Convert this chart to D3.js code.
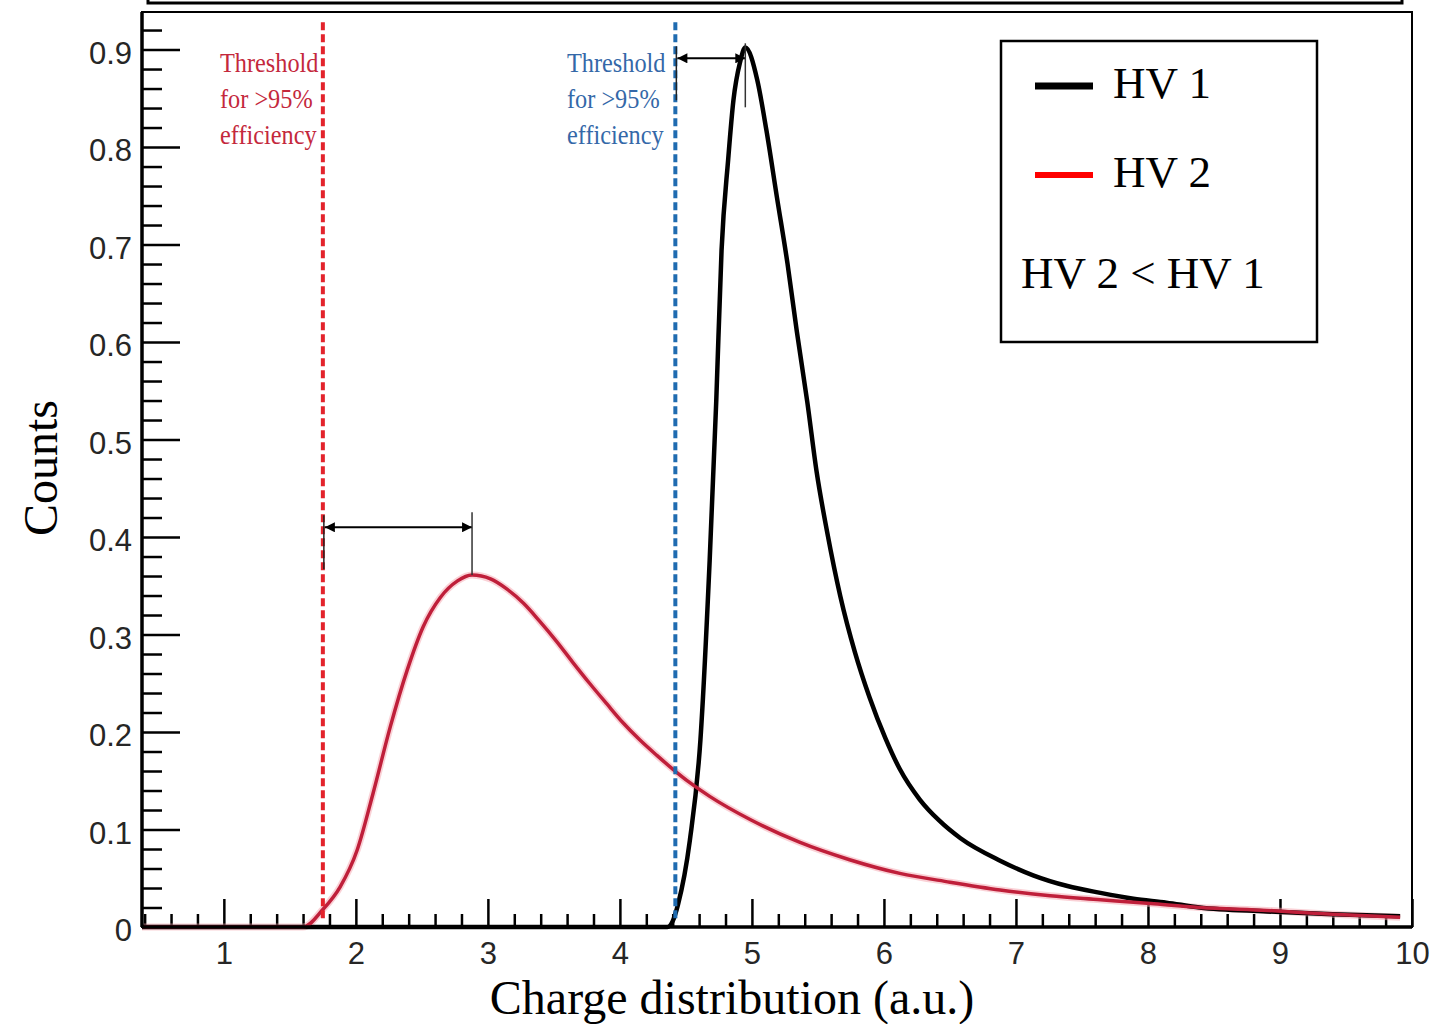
<!DOCTYPE html>
<html lang="en">
<head>
    <meta charset="UTF-8">
    <title>Charge distribution HV1 / HV2</title>
    <script src="https://d3js.org/d3.v7.min.js"></script>
    <style>
        body { margin: 0; padding: 0; background: #ffffff; overflow: hidden; }
        svg { display: block; }
        .tick-label { font-family: "Liberation Sans", Arial, sans-serif; font-size: 31px; fill: #262626; }
        .serif { font-family: "Liberation Serif", "Times New Roman", serif; }
    </style>
</head>
<body>
<svg id="chart" width="1433" height="1024"></svg>
<script>
    // --- Data ---
    const hv1X = [0.38, 4.36, 4.40, 4.44, 4.53, 4.61, 4.68, 4.73, 4.77, 4.82, 4.86, 4.91, 4.95,
                  5.04, 5.11, 5.19, 5.27, 5.34, 5.42, 5.49, 5.57, 5.67, 5.78, 5.89, 6.01, 6.12, 6.27, 6.42, 6.58, 6.88,
                  7.13, 7.39, 7.64, 7.89, 8.14, 8.39, 8.90, 9.40, 9.91];
    const hv1Y = [0, 0, 0.006, 0.023, 0.089, 0.192, 0.376, 0.540, 0.694, 0.787, 0.848, 0.887, 0.902,
                  0.869, 0.817, 0.748, 0.680, 0.611, 0.538, 0.467, 0.405, 0.339, 0.282, 0.236, 0.194, 0.162, 0.131, 0.109, 0.091, 0.068,
                  0.053, 0.042, 0.035, 0.029, 0.025, 0.020, 0.016, 0.013, 0.011];

    const hv2X = [0.38, 1.60, 1.75, 1.88, 2.01, 2.13, 2.26, 2.39, 2.51, 2.64, 2.77, 2.88, 3.02, 3.14, 3.27, 3.39, 3.52, 3.64,
                  3.77, 3.90, 4.02, 4.15, 4.28, 4.40, 4.53, 4.68, 4.99, 5.36, 5.74, 6.12, 6.50, 6.88, 7.26, 7.64,
                  8.02, 8.39, 8.90, 9.40, 9.91];
    const hv2Y = [0, 0, 0.018, 0.041, 0.079, 0.137, 0.205, 0.264, 0.308, 0.338, 0.355, 0.361, 0.357, 0.347, 0.332, 0.314, 0.293, 0.272,
                  0.250, 0.229, 0.210, 0.192, 0.176, 0.162, 0.148, 0.134, 0.110, 0.087, 0.069, 0.055, 0.046, 0.038, 0.032, 0.028,
                  0.024, 0.020, 0.017, 0.013, 0.010];

    const xMajorTicks = [1, 2, 3, 4, 5, 6, 7, 8, 9, 10];
    const yMajorTicks = [0, 0.1, 0.2, 0.3, 0.4, 0.5, 0.6, 0.7, 0.8, 0.9];
    const yTickLabels = ["0", "0.1", "0.2", "0.3", "0.4", "0.5", "0.6", "0.7", "0.8", "0.9"];

    const thresholds = [1.75, 4.42];       // HV2 (red), HV1 (blue)
    const peaks = [2.88, 4.95];            // HV2 peak, HV1 peak
    const peakCounts = [0.361, 0.902];
    const arrowCounts = [0.41, 0.891];
    const legendLabels = ["HV 1", "HV 2"];

    // --- Layout ---
    const svg = d3.select("#chart");
    const plot = { left: 142, right: 1412, top: 12, bottom: 927 };

    const x = d3.scaleLinear().domain([0.38, 10]).range([plot.left, plot.right]);
    const y = d3.scaleLinear().domain([0, 0.9385]).range([plot.bottom, plot.top]);

    // title box remnant at the very top
    svg.append("rect")
        .attr("x", 148).attr("y", -10).attr("width", 1254).attr("height", 13)
        .attr("fill", "none").attr("stroke", "#000").attr("stroke-width", 3);

    // --- Axes (ROOT-style inward ticks) ---
    const xMinor = d3.range(0.4, 10.001, 0.2).filter(v => Math.abs(v - Math.round(v)) > 0.01);
    const yMinor = d3.range(0, 0.9201, 0.02).filter(v => Math.abs(v * 10 - Math.round(v * 10)) > 0.01);

    const gx = svg.append("g").attr("transform", `translate(0,${plot.bottom})`);
    gx.append("g").call(d3.axisBottom(x).tickValues(xMinor).tickSizeInner(-13).tickSizeOuter(0).tickFormat(""));
    gx.append("g").call(d3.axisBottom(x).tickValues(xMajorTicks).tickSizeInner(-28).tickSizeOuter(0).tickPadding(15).tickFormat(d3.format("d")));

    const gy = svg.append("g").attr("transform", `translate(${plot.left},0)`);
    gy.append("g").call(d3.axisLeft(y).tickValues(yMinor).tickSizeInner(-20).tickSizeOuter(0).tickFormat(""));
    gy.append("g").call(d3.axisLeft(y).tickValues(yMajorTicks).tickSizeInner(-38).tickSizeOuter(0).tickPadding(10)
        .tickFormat((d, i) => yTickLabels[i]));

    svg.selectAll(".domain").remove();
    svg.selectAll(".tick line").attr("stroke", "#000").attr("stroke-width", 2.5);
    svg.selectAll(".tick text").attr("class", "tick-label");
    gy.selectAll(".tick text").attr("dy", "0.45em");

    // --- Curves ---
    const line = d3.line().x(d => x(d[0])).y(d => y(d[1])).curve(d3.curveMonotoneX);
    const hv1 = hv1X.map((v, i) => [v, hv1Y[i]]);
    const hv2 = hv2X.map((v, i) => [v, hv2Y[i]]);

    svg.append("path").datum(hv2).attr("d", line)
        .attr("fill", "none").attr("stroke", "#f5a3ad").attr("stroke-width", 7).attr("stroke-opacity", 0.5);
    svg.append("path").datum(hv1).attr("d", line)
        .attr("fill", "none").attr("stroke", "#000").attr("stroke-width", 4.5).attr("stroke-linejoin", "round");
    svg.append("path").datum(hv2).attr("d", line)
        .attr("fill", "none").attr("stroke", "#bf1f3a").attr("stroke-width", 3.5).attr("stroke-linejoin", "round");

    // --- Threshold dashed lines ---
    const dashColors = ["#e3232c", "#1f6bb0"];
    thresholds.forEach((t, i) => {
        svg.append("line")
            .attr("x1", x(t)).attr("x2", x(t))
            .attr("y1", y(0.928)).attr("y2", y(0.008))
            .attr("stroke", dashColors[i]).attr("stroke-width", 4)
            .attr("stroke-dasharray", "8,4");
    });

    // --- Arrows between threshold and peak ---
    const defs = svg.append("defs");
    ["arrowStart", "arrowEnd"].forEach((id, i) => {
        defs.append("marker")
            .attr("id", id).attr("viewBox", "0 0 10 10")
            .attr("refX", i === 0 ? 0 : 10).attr("refY", 5)
            .attr("markerWidth", 14).attr("markerHeight", 10)
            .attr("markerUnits", "userSpaceOnUse")
            .attr("orient", "auto")
            .append("path")
            .attr("d", i === 0 ? "M10,0 L0,5 L10,10 Z" : "M0,0 L10,5 L0,10 Z")
            .attr("fill", "#000");
    });

    thresholds.forEach((t, i) => {
        const ay = y(arrowCounts[i]);
        svg.append("line")
            .attr("x1", x(t) + 2).attr("x2", x(peaks[i]))
            .attr("y1", ay).attr("y2", ay)
            .attr("stroke", "#000").attr("stroke-width", 2)
            .attr("marker-start", "url(#arrowStart)")
            .attr("marker-end", "url(#arrowEnd)");
        // vertical marker at peak
        svg.append("line")
            .attr("x1", x(peaks[i])).attr("x2", x(peaks[i]))
            .attr("y1", ay - 15).attr("y2", i === 0 ? y(peakCounts[i]) : ay + 49)
            .attr("stroke", "#333").attr("stroke-width", 1.5);
        // thin line on the threshold
        svg.append("line")
            .attr("x1", x(t) + 1).attr("x2", x(t) + 1)
            .attr("y1", ay - 12).attr("y2", ay + 42)
            .attr("stroke", "#222").attr("stroke-width", 1.5);
    });

    // --- Threshold annotation text ---
    const noteLines = ["Threshold", "for >95%", "efficiency"];
    const noteColors = ["#c4283c", "#3468a8"];
    const noteX = [220, 567];
    noteX.forEach((nx, i) => {
        noteLines.forEach((txt, j) => {
            svg.append("text")
                .attr("class", "serif")
                .attr("transform", `translate(${nx},${72 + j * 36}) scale(0.9,1)`)
                .attr("font-size", 27)
                .attr("fill", noteColors[i])
                .text(txt);
        });
    });

    // --- Plot frame ---
    svg.append("rect")
        .attr("x", plot.left).attr("y", plot.top)
        .attr("width", plot.right - plot.left).attr("height", plot.bottom - plot.top)
        .attr("fill", "none").attr("stroke", "#000").attr("stroke-width", 2);
    svg.append("line").attr("x1", plot.left).attr("x2", plot.left).attr("y1", plot.top).attr("y2", plot.bottom)
        .attr("stroke", "#000").attr("stroke-width", 3.5);
    svg.append("line").attr("x1", plot.left).attr("x2", plot.right).attr("y1", plot.bottom).attr("y2", plot.bottom)
        .attr("stroke", "#000").attr("stroke-width", 3.5);

    // --- Axis titles ---
    svg.append("text")
        .attr("class", "serif")
        .attr("x", 732).attr("y", 1014)
        .attr("text-anchor", "middle")
        .attr("font-size", 48)
        .text("Charge distribution (a.u.)");

    svg.append("text")
        .attr("class", "serif")
        .attr("transform", "translate(57,468) rotate(-90)")
        .attr("text-anchor", "middle")
        .attr("font-size", 48)
        .text("Counts");

    // --- Legend ---
    const legend = svg.append("g");
    legend.append("rect")
        .attr("x", 1001).attr("y", 41).attr("width", 316).attr("height", 301)
        .attr("fill", "#fff").attr("stroke", "#000").attr("stroke-width", 2.5);
    const legendColors = ["#000", "#ff0000"];
    const legendWidths = [7, 6];
    legendLabels.forEach((lab, i) => {
        const ly = 86 + i * 89;
        legend.append("line")
            .attr("x1", 1035).attr("x2", 1093).attr("y1", ly).attr("y2", ly)
            .attr("stroke", legendColors[i]).attr("stroke-width", legendWidths[i]);
        legend.append("text")
            .attr("class", "serif")
            .attr("x", 1113).attr("y", ly + 12)
            .attr("font-size", 45)
            .text(lab);
    });
    legend.append("text")
        .attr("class", "serif")
        .attr("x", 1021).attr("y", 288)
        .attr("font-size", 45)
        .text("HV 2 < HV 1");
</script>
</body>
</html>
